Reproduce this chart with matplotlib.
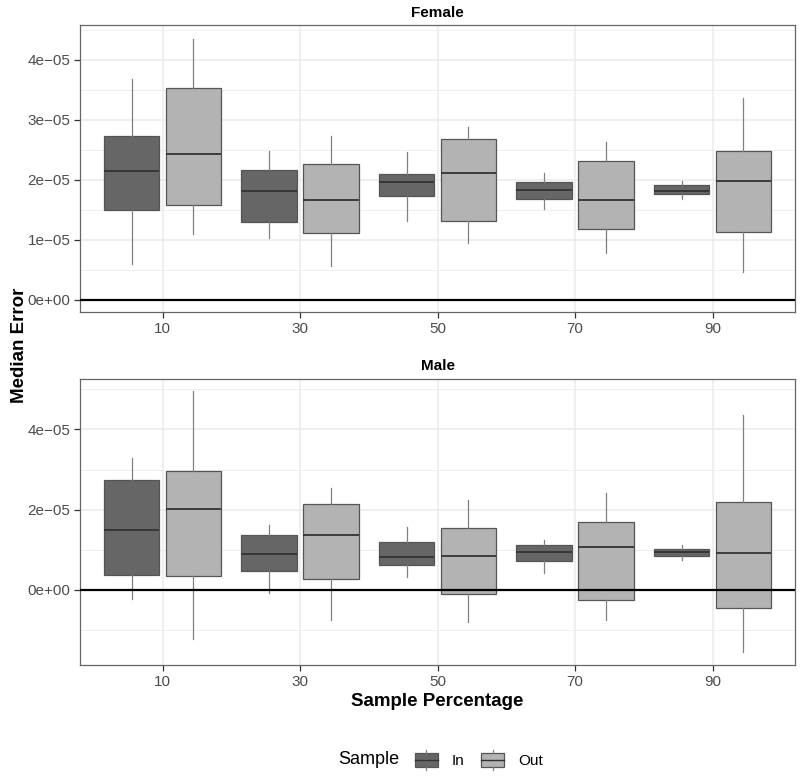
import matplotlib
matplotlib.use("Agg")
import matplotlib.pyplot as plt
from matplotlib.patches import Rectangle
from matplotlib.lines import Line2D
from matplotlib.legend_handler import HandlerBase

plt.rcParams['font.family'] = ['Liberation Sans', 'DejaVu Sans']

percentages = ["10", "30", "50", "70", "90"]
panels = ["Female", "Male"]
samples = ["In", "Out"]

# five-number summaries (x 1e-05): whislo, q1, med, q3, whishi
female_in = [[0.60, 1.50, 2.15, 2.74, 3.68],
             [1.04, 1.30, 1.82, 2.16, 2.48],
             [1.32, 1.73, 1.96, 2.10, 2.47],
             [1.52, 1.68, 1.84, 1.96, 2.11],
             [1.68, 1.76, 1.82, 1.92, 1.99]]
female_out = [[1.10, 1.59, 2.43, 3.54, 4.35],
              [0.57, 1.11, 1.66, 2.26, 2.74],
              [0.95, 1.31, 2.11, 2.69, 2.89],
              [0.78, 1.19, 1.67, 2.31, 2.64],
              [0.46, 1.13, 1.98, 2.48, 3.36]]
male_in = [[-0.23, 0.37, 1.49, 2.74, 3.28],
           [-0.08, 0.46, 0.89, 1.36, 1.62],
           [0.33, 0.63, 0.82, 1.20, 1.58],
           [0.43, 0.71, 0.95, 1.12, 1.24],
           [0.75, 0.85, 0.94, 1.03, 1.13]]
male_out = [[-1.22, 0.34, 2.01, 2.96, 4.96],
            [-0.76, 0.27, 1.36, 2.13, 2.54],
            [-0.80, -0.11, 0.85, 1.55, 2.24],
            [-0.74, -0.24, 1.07, 1.70, 2.42],
            [-1.55, -0.45, 0.93, 2.20, 4.36]]

data = {"Female": [female_in, female_out], "Male": [male_in, male_out]}

ylims = {"Female": (-0.2e-05, 4.583e-05), "Male": (-1.87e-05, 5.263e-05)}
yticks = {"Female": [0, 1e-05, 2e-05, 3e-05, 4e-05], "Male": [0, 2e-05, 4e-05]}
yticklabels = {"Female": ["0e+00", "1e\u221205", "2e\u221205", "3e\u221205", "4e\u221205"],
               "Male": ["0e+00", "2e\u221205", "4e\u221205"]}
yminor = {"Female": [0.5e-05, 1.5e-05, 2.5e-05, 3.5e-05, 4.5e-05],
          "Male": [-1e-05, 1e-05, 3e-05, 5e-05]}

fills = ["#666666", "#B3B3B3"]
edge = "#555555"
grid_c = "#EBEBEB"

fig = plt.figure(figsize=(8, 7.78), dpi=100)
ax_top = fig.add_axes([0.1, 1 - 312 / 778, 715 / 800, 287 / 778])
ax_bot = fig.add_axes([0.1, 1 - 665 / 778, 715 / 800, 286.3 / 778])

pos = list(range(1, len(percentages) + 1))
for ax, name in zip([ax_top, ax_bot], panels):
    for k, (series, fc) in enumerate(zip(data[name], fills)):
        stats = []
        for s in series:
            stats.append({"whislo": s[0] * 1e-05, "q1": s[1] * 1e-05, "med": s[2] * 1e-05,
                          "q3": s[3] * 1e-05, "whishi": s[4] * 1e-05, "fliers": []})
        offs = -0.225 if k == 0 else 0.225
        ax.bxp(stats, positions=[p + offs for p in pos], widths=0.405, patch_artist=True,
               showcaps=False, showfliers=False, manage_ticks=False,
               boxprops=dict(facecolor=fc, edgecolor=edge, linewidth=0.9),
               whiskerprops=dict(color="#808080", linewidth=0.9),
               medianprops=dict(color="#333333", linewidth=1.3), zorder=3)
    ax.axhline(0, color="black", linewidth=1.6, zorder=4)
    ax.set_xlim(0.4, len(percentages) + 0.6)
    ax.set_ylim(*ylims[name])
    ax.set_xticks(pos)
    ax.set_xticklabels(percentages)
    ax.set_yticks(yticks[name])
    ax.set_yticklabels(yticklabels[name])
    ax.set_yticks(yminor[name], minor=True)
    ax.grid(True, which="major", color=grid_c, linewidth=1.1, zorder=0)
    ax.grid(True, which="minor", axis="y", color=grid_c, linewidth=0.6, zorder=0)
    ax.set_axisbelow(True)
    ax.tick_params(which="major", length=4, width=0.9, color="#333333",
                   labelsize=11, labelcolor="#4D4D4D", pad=3)
    ax.tick_params(which="minor", length=0)
    for sp in ax.spines.values():
        sp.set_color("#666666")
        sp.set_linewidth(0.9)
    ax.set_title(name, fontsize=11, fontweight="bold", pad=6)

fig.text(0.024, 1 - 345 / 778, "Median Error", rotation=90,
         fontsize=13.5, fontweight="bold", ha="center", va="center")
fig.text(437.5 / 800, 1 - 701 / 778, "Sample Percentage", fontsize=13.5,
         fontweight="bold", ha="center", va="center")


class BoxHandler(HandlerBase):
    def create_artists(self, legend, orig_handle, xdescent, ydescent, width, height, fontsize, trans):
        x0, y0 = -xdescent, -ydescent
        cx = x0 + width / 2
        lo, hi = y0 + 0.15 * height, y0 + 0.85 * height
        body = Rectangle((x0, lo), width, hi - lo,
                         facecolor=orig_handle.get_facecolor(), edgecolor=edge,
                         linewidth=0.9, transform=trans)
        med = Line2D([x0, x0 + width], [y0 + height / 2] * 2, color="#333333",
                     linewidth=1.0, transform=trans)
        w1 = Line2D([cx, cx], [y0, lo], color="#808080", linewidth=0.9, transform=trans)
        w2 = Line2D([cx, cx], [hi, y0 + height], color="#808080", linewidth=0.9, transform=trans)
        return [body, med, w1, w2]


handles = [Rectangle((0, 0), 1, 1, facecolor=c) for c in fills]
leg = fig.legend(handles, samples, handler_map={Rectangle: BoxHandler()},
                 loc="center left", bbox_to_anchor=(415 / 800, 1 - 760 / 778), ncol=2,
                 frameon=False, fontsize=11, handlelength=1.5, handleheight=1.6,
                 handletextpad=0.9, columnspacing=1.1, borderaxespad=0, borderpad=0)
fig.text(338 / 800, 1 - 760 / 778, "Sample", fontsize=13, ha="left", va="center")

fig.savefig("out.png", dpi=100)
